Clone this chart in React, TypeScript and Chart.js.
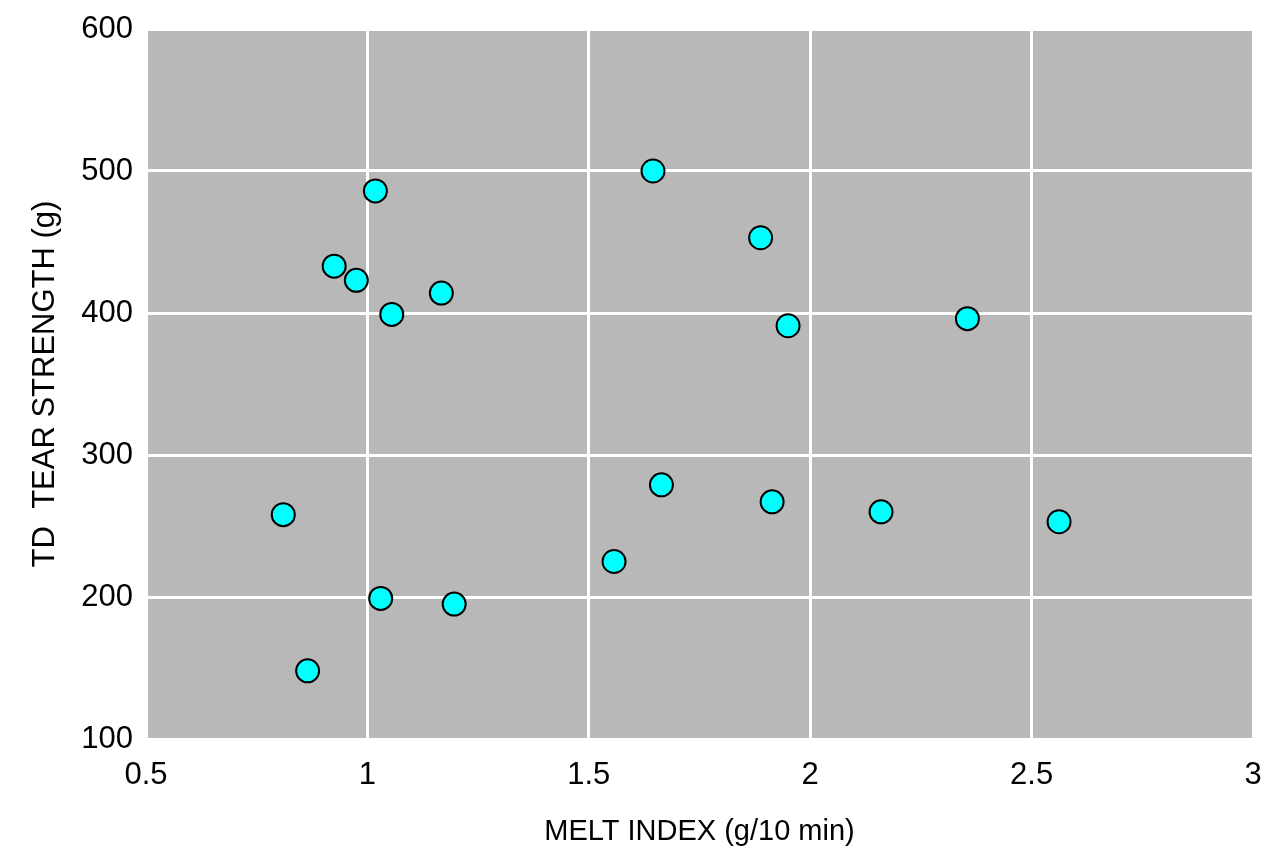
import React, { useEffect, useRef } from "react";
import { Chart, registerables } from "chart.js";

Chart.register(...registerables);

const meltIndex = [0.81, 0.865, 0.925, 0.975, 1.018, 1.03, 1.055, 1.167, 1.196, 1.557, 1.645, 1.664, 1.888, 1.914, 1.95, 2.16, 2.355, 2.562];
const tearStrength = [258, 148, 433, 423, 486, 199, 399, 414, 195, 225, 500, 279, 453, 267, 391, 260, 396, 253];
const xTitle = "MELT INDEX (g/10 min)";
const yTitle = "TD  TEAR STRENGTH (g)";

const FONT = "'Liberation Sans', Arial, sans-serif";

const bgPlugin = {
  id: "plotBg",
  beforeDraw(chart: any) {
    const { ctx, chartArea } = chart;
    ctx.save();
    ctx.fillStyle = "#b8b8b8";
    ctx.fillRect(chartArea.left, chartArea.top, chartArea.right - chartArea.left, chartArea.bottom - chartArea.top);
    ctx.restore();
  },
};

export default function App() {
  const ref = useRef<HTMLCanvasElement>(null);
  useEffect(() => {
    if (!ref.current) return;
    const chart = new Chart(ref.current, {
      type: "scatter",
      data: {
        datasets: [
          {
            data: meltIndex.map((x, i) => ({ x, y: tearStrength[i] })),
            backgroundColor: "#00ffff",
            borderColor: "#000000",
            borderWidth: 2,
            pointRadius: 11.5,
          },
        ],
      },
      options: {
        animation: false,
        responsive: false,
        layout: { padding: { top: 29, right: 21, left: 0, bottom: 0 } },
        plugins: { legend: { display: false }, tooltip: { enabled: false } },
        scales: {
          x: {
            type: "linear",
            min: 0.5,
            max: 3,
            afterFit(scale: any) { scale.height = 115; scale.paddingLeft = 0; scale.paddingRight = 0; },
            ticks: { stepSize: 0.5, color: "#000", padding: 18, font: { family: FONT, size: 31 }, callback: (v: any) => String(v) },
            grid: { color: "#ffffff", lineWidth: 3, drawTicks: false },
            border: { display: false },
            title: { display: true, text: xTitle, color: "#000", font: { family: FONT, size: 29 }, padding: { top: 0, bottom: 5 } },
          },
          y: {
            type: "linear",
            min: 100,
            max: 600,
            afterFit(scale: any) { scale.width = 146; scale.paddingTop = 0; scale.paddingBottom = 0; },
            ticks: { stepSize: 100, color: "#000", padding: 13, font: { family: FONT, size: 31 } },
            grid: { color: "#ffffff", lineWidth: 3, drawTicks: false },
            border: { display: false },
            title: { display: true, text: yTitle, color: "#000", font: { family: FONT, size: 31 }, padding: { top: 27, bottom: 0 } },
          },
        },
      },
      plugins: [bgPlugin],
    });
    return () => chart.destroy();
  }, []);
  return (
    <div style={{ position: "absolute", left: 0, top: 0, width: 1274, height: 854, background: "#fff" }}>
      <canvas ref={ref} width={1274} height={854} style={{ width: 1274, height: 854 }} />
    </div>
  );
}
